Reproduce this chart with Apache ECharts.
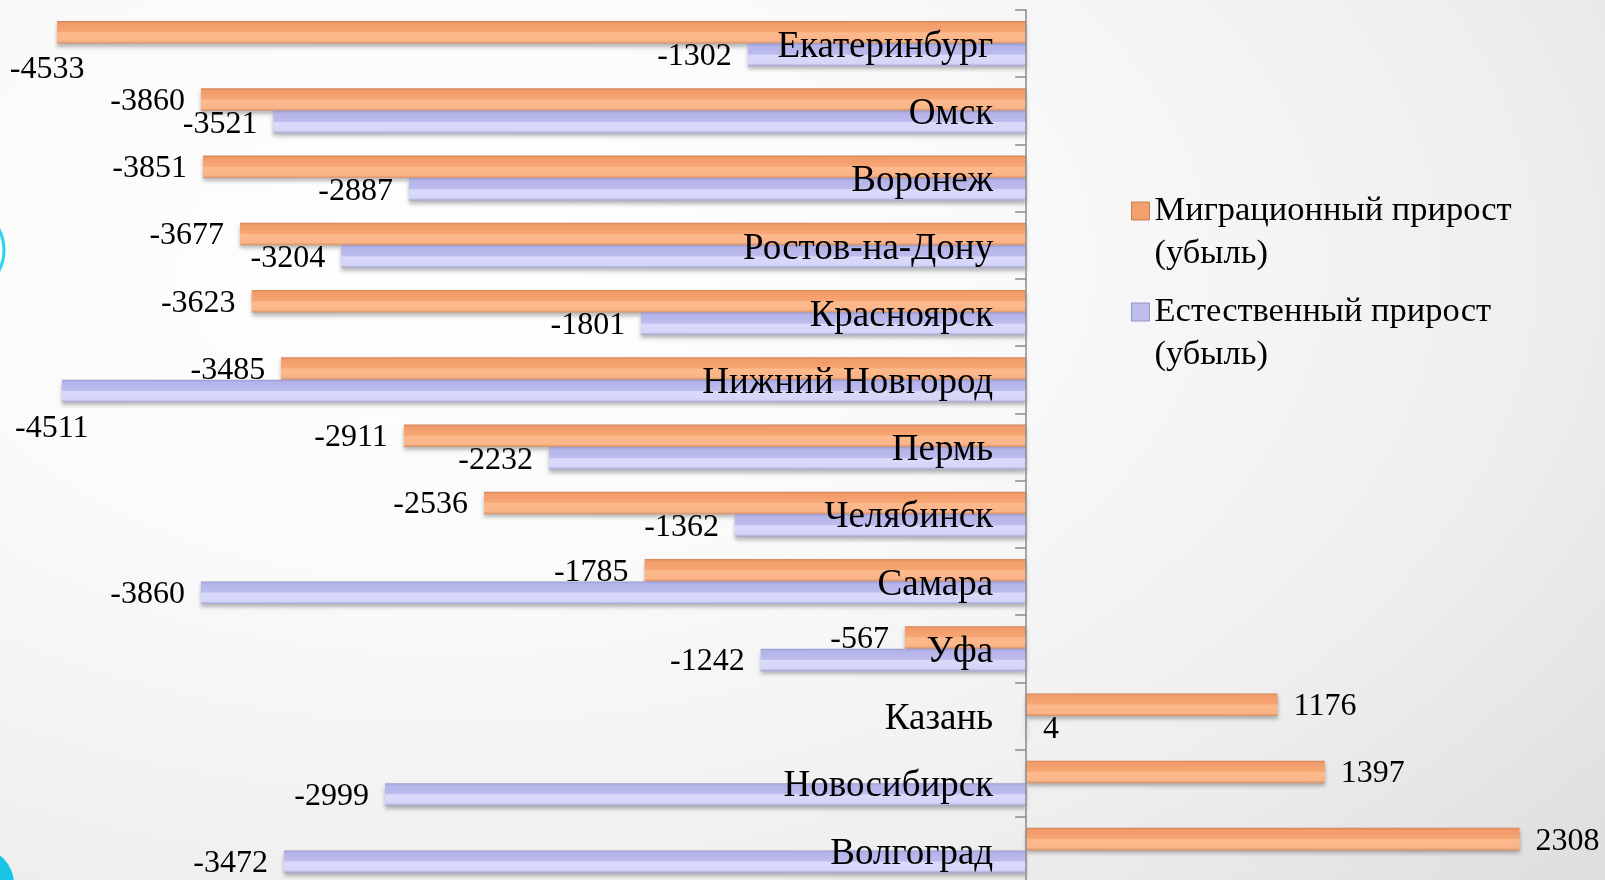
<!DOCTYPE html>
<html>
<head>
<meta charset="utf-8">
<script src="https://cdn.jsdelivr.net/npm/echarts@6/dist/echarts.min.js"></script>
<style>
html,body{margin:0;padding:0;}
body{width:1605px;height:880px;overflow:hidden;
background: radial-gradient(ellipse 95% 105% at 28% 30%, #ffffff 0%, #fafafa 35%, #efefef 70%, #dedede 100%);}
#chart{width:1605px;height:880px;}
</style>
</head>
<body>
<div id="chart"></div>
<script>
const categories = ['Екатеринбург','Омск','Воронеж','Ростов-на-Дону','Красноярск','Нижний Новгород','Пермь','Челябинск','Самара','Уфа','Казань','Новосибирск','Волгоград'];
const migration = [-4533,-3860,-3851,-3677,-3623,-3485,-2911,-2536,-1785,-567,1176,1397,2308];
const natural = [-1302,-3521,-2887,-3204,-1801,-4511,-2232,-1362,-3860,-1242,4,-2999,-3472];
const seriesNames = ['Миграционный прирост\n(убыль)','Естественный прирост\n(убыль)'];

const FONT = '"Liberation Serif", "Times New Roman", serif';

function labelFor(v){
  if (v >= 0) return {position:'right'};
  if (v < -4400) return {position:[-10,47], align:'center', verticalAlign:'middle'};
  return {position:'left'};
}
function build(arr){ return arr.map(v => ({value:v, label:labelFor(v)})); }

const orangeGrad = new echarts.graphic.LinearGradient(0,0,0,1,[
  {offset:0,color:'#D4855A'},{offset:0.1,color:'#F29C6A'},{offset:0.47,color:'#F6A573'},
  {offset:0.52,color:'#FCBA8C'},{offset:0.88,color:'#FBB487'},{offset:1,color:'#D39068'}]);
const blueGrad = new echarts.graphic.LinearGradient(0,0,0,1,[
  {offset:0,color:'#9A9AD4'},{offset:0.1,color:'#B3B3E9'},{offset:0.47,color:'#BCBCEE'},
  {offset:0.52,color:'#DADAFB'},{offset:0.88,color:'#D5D5F8'},{offset:1,color:'#A2A2D2'}]);

const iconPath = 'path://M0,12.5L18,12.5L18,30.5L0,30.5Z M0,0L0.01,0L0,0.01Z M18,86L17.99,86L18,85.99Z';

const labelCommon = {show:true, distance:16, color:'#000', fontFamily:FONT, fontSize:32, offset:[0,2]};

const chart = echarts.init(document.getElementById('chart'), null, {renderer:'canvas'});
const GRID_LEFT = 0;
chart.setOption({
  backgroundColor:'transparent',
  animation:false,
  graphic:[
    {type:'circle', shape:{cx:-40, cy:250, r:44}, style:{fill:'rgba(0,0,0,0)', stroke:'#2ED3EE', lineWidth:3}, z:-1},
    {type:'circle', shape:{cx:-22, cy:884, r:36}, style:{fill:'#19C6E6'}, z:-1}
  ],
  grid:{left:GRID_LEFT, top:10, width:1582, height:874, containLabel:false, outerBoundsMode:'none'},
  legend:{
    orient:'vertical', left:1126, top:184, itemGap:14,
    itemWidth:18, itemHeight:86, icon:iconPath,
    textStyle:{fontFamily:FONT, fontSize:34.5, color:'#000', lineHeight:43},
    data:[
      {name:seriesNames[0], itemStyle:{color:'#F2A06E', borderColor:'#C98258', borderWidth:1}},
      {name:seriesNames[1], itemStyle:{color:'#BDBDEE', borderColor:'#9494C8', borderWidth:1}}
    ]
  },
  xAxis:{type:'value', min:-4800, max:2600, show:false, splitLine:{show:false}},
  yAxis:{
    type:'category', data:categories, inverse:true, z:10,
    axisLine:{show:true, onZero:false, lineStyle:{color:'#8a8a8a', width:1.5}},
    axisTick:{show:true, length:11, lineStyle:{color:'#8a8a8a', width:1.5}},
    axisLabel:{margin:33, color:'#000', fontFamily:FONT, fontSize:37,
      formatter: v => '{c|' + v + '}',
      rich:{c:{fontFamily:FONT, fontSize:37, color:'#000', padding:[7,0,0,0]}}}
  },
  series:[
    {name:seriesNames[0], type:'bar', data:build(migration), barCategoryGap:'33%', barGap:'0%',
     itemStyle:{color:orangeGrad, shadowColor:'rgba(0,0,0,0.28)', shadowBlur:4, shadowOffsetY:3},
     label:labelCommon},
    {name:seriesNames[1], type:'bar', data:build(natural), barCategoryGap:'33%', barGap:'0%',
     itemStyle:{color:blueGrad, shadowColor:'rgba(0,0,0,0.28)', shadowBlur:4, shadowOffsetY:3},
     label:labelCommon}
  ]
});
// move the category axis (line, ticks, labels) to the value-axis zero
const zeroX = chart.convertToPixel({xAxisIndex:0}, 0);
chart.setOption({yAxis:{offset:-(zeroX - GRID_LEFT)}});
</script>
</body>
</html>
